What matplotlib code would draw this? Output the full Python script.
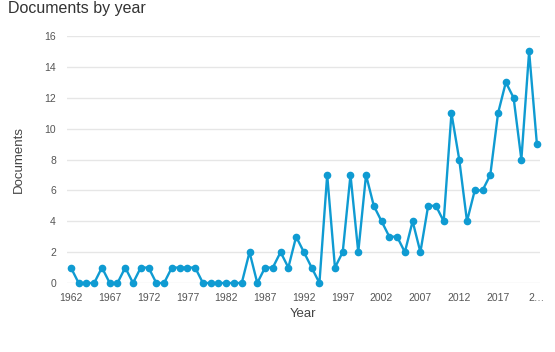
import matplotlib
matplotlib.use("Agg")
import matplotlib.pyplot as plt

years = list(range(1962, 2023))
documents = [1, 0, 0, 0, 1, 0, 0, 1, 0, 1, 1, 0, 0, 1, 1, 1, 1, 0, 0, 0,
             0, 0, 0, 2, 0, 1, 1, 2, 1, 3, 2, 1, 0, 7, 1, 2, 7, 2, 7, 5,
             4, 3, 3, 2, 4, 2, 5, 5, 4, 11, 8, 4, 6, 6, 7, 11, 13, 12, 8, 15, 9]
x_ticks = list(range(1962, 2023, 5))
x_tick_labels = [str(y) for y in x_ticks[:-1]] + ["2\u2026"]
y_ticks = [0, 2, 4, 6, 8, 10, 12, 14, 16]

plt.rcParams['font.family'] = ['Liberation Sans', 'DejaVu Sans']

W, H = 555, 352
fig = plt.figure(figsize=(W / 100, H / 100), dpi=100)
ax = fig.add_axes([67 / W, 1 - 283 / H, (540 - 67) / W, (283 - 36) / H])

color = "#0f9bd2"
ax.plot(years, documents, color=color, linewidth=1.7, marker="o",
        markersize=4.5, clip_on=False, zorder=3)

ax.set_xlim(1961.5, 2022.4)
ax.set_ylim(0, 16)
ax.set_yticks(y_ticks)
ax.set_yticklabels([str(v) for v in y_ticks])
ax.set_xticks(x_ticks)
ax.set_xticklabels(x_tick_labels)

ax.grid(axis="y", color="#e6e6e6", linewidth=1)
ax.set_axisbelow(True)
for s in ax.spines.values():
    s.set_visible(False)
ax.tick_params(axis="both", length=0, labelsize=7.5, labelcolor="#555555")
ax.tick_params(axis="y", pad=8)
ax.tick_params(axis="x", pad=7)

ax.set_xlabel("Year", fontsize=9.5, color="#444444", labelpad=4)
ax.set_ylabel("Documents", fontsize=9.5, color="#444444", labelpad=14)

fig.text(8 / W, 1 - 9 / H, "Documents by year", fontsize=11.5,
         color="#333333", ha="left", va="center")

fig.savefig("out.png", dpi=100)
